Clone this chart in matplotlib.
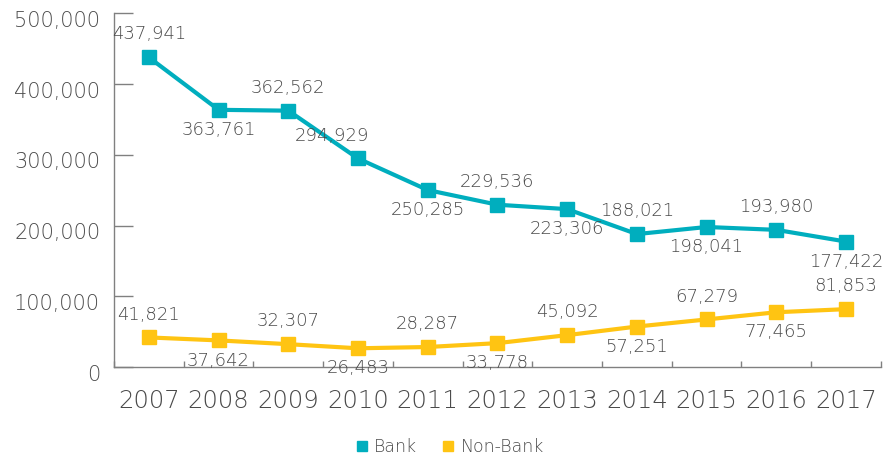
import matplotlib.pyplot as plt
from matplotlib.lines import Line2D
from matplotlib.transforms import ScaledTranslation

# data
years = ['2007', '2008', '2009', '2010', '2011', '2012', '2013', '2014', '2015', '2016', '2017']
bank = [437941, 363761, 362562, 294929, 250285, 229536, 223306, 188021, 198041, 193980, 177422]
non_bank = [41821, 37642, 32307, 26483, 28287, 33778, 45092, 57251, 67279, 77465, 81853]

# where each value label sits (a = above, b = below)
bank_pos = ['a', 'b', 'a', 'a', 'b', 'a', 'b', 'a', 'b', 'a', 'b']
non_bank_pos = ['a', 'b', 'a', 'b', 'a', 'b', 'a', 'b', 'a', 'b', 'a']

teal = '#00AEBE'
yellow = '#FFC412'
grey = '#4a4a4a'
axis_grey = '#808080'

plt.rcParams['font.family'] = ['DejaVu Sans']
plt.rcParams['font.weight'] = 'light'

fig = plt.figure(figsize=(8.88, 4.59), dpi=100)
ax = fig.add_axes([0.1284, 0.2004, 0.8636, 0.7702])

x = list(range(len(years)))
ax.plot(x, bank, color=teal, lw=3, marker='s', ms=9.5, zorder=3)
ax.plot(x, non_bank, color=yellow, lw=3, marker='s', ms=9.5, zorder=3)


def label_series(vals, pos, xshift=None):
    for i, v in enumerate(vals):
        dx = xshift.get(i, 0) if xshift else 0
        if pos[i] == 'a':
            ax.annotate(f'{v:,}', (i, v), xytext=(dx, 10), textcoords='offset points',
                        ha='center', va='bottom', fontsize=13, color=grey)
        else:
            ax.annotate(f'{v:,}', (i, v), xytext=(dx, -8), textcoords='offset points',
                        ha='center', va='top', fontsize=13, color=grey)


label_series(bank, bank_pos, {3: -19})
label_series(non_bank, non_bank_pos)

ax.set_xlim(-0.5, len(years) - 0.5)
ax.set_ylim(0, 500000)
ax.set_yticks(range(0, 500001, 100000))
ax.set_yticklabels([f'{v:,}' for v in range(0, 500001, 100000)])
ax.set_xticks(x)
ax.set_xticklabels(years)
ax.set_xticks([i - 0.5 for i in range(len(years) + 1)], minor=True)

ax.tick_params(axis='y', direction='in', length=14, width=1, color=axis_grey,
               pad=10, labelsize=15, labelcolor=grey)
ax.tick_params(axis='x', which='major', length=0, pad=16, labelsize=17.5, labelcolor=grey)
ax.tick_params(axis='x', which='minor', direction='in', length=4.5, width=1, color=axis_grey)

# y labels sit a little below their ticks
shift = ScaledTranslation(0, -0.055, fig.dpi_scale_trans)
for lab in ax.get_yticklabels():
    lab.set_transform(lab.get_transform() + shift)

for s in ['top', 'right']:
    ax.spines[s].set_visible(False)
for s in ['left', 'bottom']:
    ax.spines[s].set_color(axis_grey)
    ax.spines[s].set_linewidth(1)

handles = [Line2D([], [], ls='none', marker='s', ms=7.5, color=teal, label='Bank'),
           Line2D([], [], ls='none', marker='s', ms=7.5, color=yellow, label='Non-Bank')]
fig.legend(handles=handles, loc='center', bbox_to_anchor=(0.505, 0.027), ncol=2,
           frameon=False, fontsize=12.5, labelcolor=grey, handletextpad=0.2,
           columnspacing=1.3, handlelength=1.0)

plt.savefig('out.png', dpi=100)
